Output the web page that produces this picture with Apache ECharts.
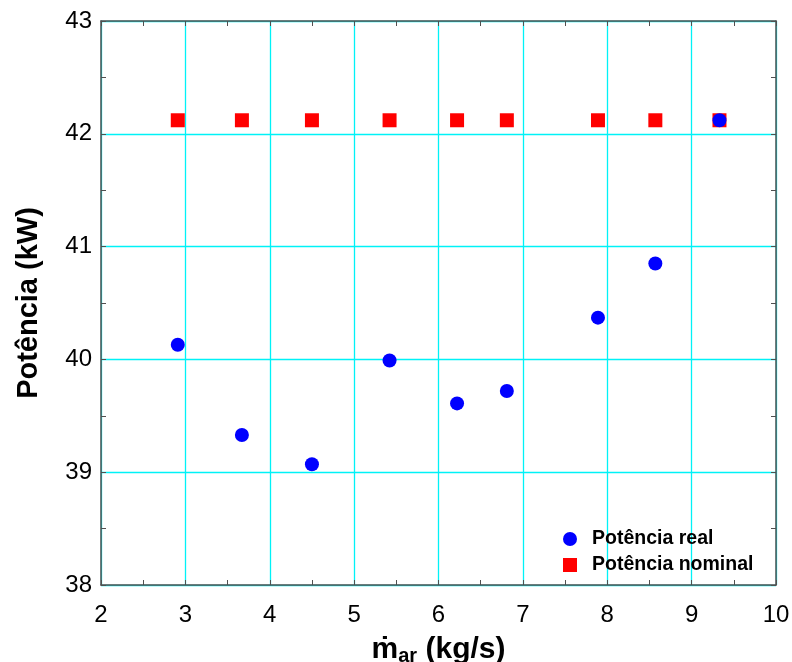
<!DOCTYPE html>
<html>
<head>
<meta charset="utf-8">
<script src="https://cdn.jsdelivr.net/npm/echarts@6/dist/echarts.min.js"></script>
<style>html,body{margin:0;padding:0;background:#fff}#c{width:792px;height:662px}</style>
</head>
<body>
<div id="c"></div>
<script>
var massFlow = [2.91, 3.67, 4.50, 5.42, 6.22, 6.81, 7.89, 8.57, 9.33];
var potReal = [40.13, 39.33, 39.07, 39.99, 39.61, 39.72, 40.37, 40.85, 42.12];
var potNominal = [42.12, 42.12, 42.12, 42.12, 42.12, 42.12, 42.12, 42.12, 42.12];
var xTicks = [2, 3, 4, 5, 6, 7, 8, 9, 10];
var yTicks = [38, 39, 40, 41, 42, 43];

var FONT = '"Liberation Sans", Arial, sans-serif';
var FRAME = '#505050';
var GRID = '#00f2f7';

function pairs(xs, ys) { return xs.map(function (x, i) { return [x, ys[i]]; }); }

var chart = echarts.init(document.getElementById('c'), null, { renderer: 'canvas' });

function xAx(pos, labels) {
  return {
    type: 'value', position: pos, min: xTicks[0], max: xTicks[xTicks.length - 1], interval: 1,
    axisLine: { show: true, onZero: false, lineStyle: { color: FRAME, width: 1.5 } },
    axisTick: { show: true, inside: true, length: 5, lineStyle: { color: FRAME } },
    minorTick: { show: true, splitNumber: 2, length: 5, lineStyle: { color: FRAME } },
    splitLine: { show: labels, lineStyle: { color: GRID, width: 1.3 } },
    axisLabel: { show: labels, fontFamily: FONT, fontSize: 24, color: '#000', margin: 18 }
  };
}
function yAx(pos, labels) {
  return {
    type: 'value', position: pos, min: yTicks[0], max: yTicks[yTicks.length - 1], interval: 1,
    axisLine: { show: true, onZero: false, lineStyle: { color: FRAME, width: 1.5 } },
    axisTick: { show: true, inside: true, length: 5, lineStyle: { color: FRAME } },
    minorTick: { show: true, splitNumber: 2, length: 5, lineStyle: { color: FRAME } },
    splitLine: { show: labels, lineStyle: { color: GRID, width: 1.3 } },
    axisLabel: { show: labels, fontFamily: FONT, fontSize: 24, color: '#000', margin: 9 }
  };
}

var xMain = xAx('bottom', true);
xMain.name = '{m|ṁ}{sub|ar}{m| (kg/s)}';
xMain.nameLocation = 'middle';
xMain.nameGap = 42;
xMain.nameTextStyle = {
  rich: {
    m: { fontFamily: FONT, fontWeight: 'bold', fontSize: 30, color: '#000', lineHeight: 32 },
    sub: { fontFamily: FONT, fontWeight: 'bold', fontSize: 20, color: '#000', lineHeight: 32, padding: [15, 0, 0, 0] }
  }
};
var yMain = yAx('left', true);
yMain.name = 'Potência (kW)';
yMain.nameLocation = 'middle';
yMain.nameGap = 58;
yMain.nameTextStyle = { fontFamily: FONT, fontWeight: 'bold', fontSize: 29, color: '#000' };

var option = {
  backgroundColor: '#fff',
  animation: false,
  grid: { left: 101, right: 16, top: 21, bottom: 77, containLabel: false, outerBoundsMode: 'none' },
  xAxis: [xMain, xAx('top', false)],
  yAxis: [yMain, yAx('right', false)],
  legend: {
    orient: 'vertical', left: 558, top: 524, itemWidth: 14, itemHeight: 14, itemGap: 6,
    data: [{ name: 'Potência real', icon: 'circle' }, { name: 'Potência nominal', icon: 'rect' }],
    textStyle: { fontFamily: FONT, fontWeight: 'bold', fontSize: 19.5, color: '#000', padding: [0, 0, 0, 10] }
  },
  series: [
    { name: 'Potência nominal', type: 'scatter', symbol: 'rect', symbolSize: 14,
      itemStyle: { color: '#ff0000', opacity: 1 }, data: pairs(massFlow, potNominal) },
    { name: 'Potência real', type: 'scatter', symbol: 'circle', symbolSize: 14,
      itemStyle: { color: '#0000ff', opacity: 1 }, data: pairs(massFlow, potReal) }
  ]
};
chart.setOption(option);
</script>
</body>
</html>
